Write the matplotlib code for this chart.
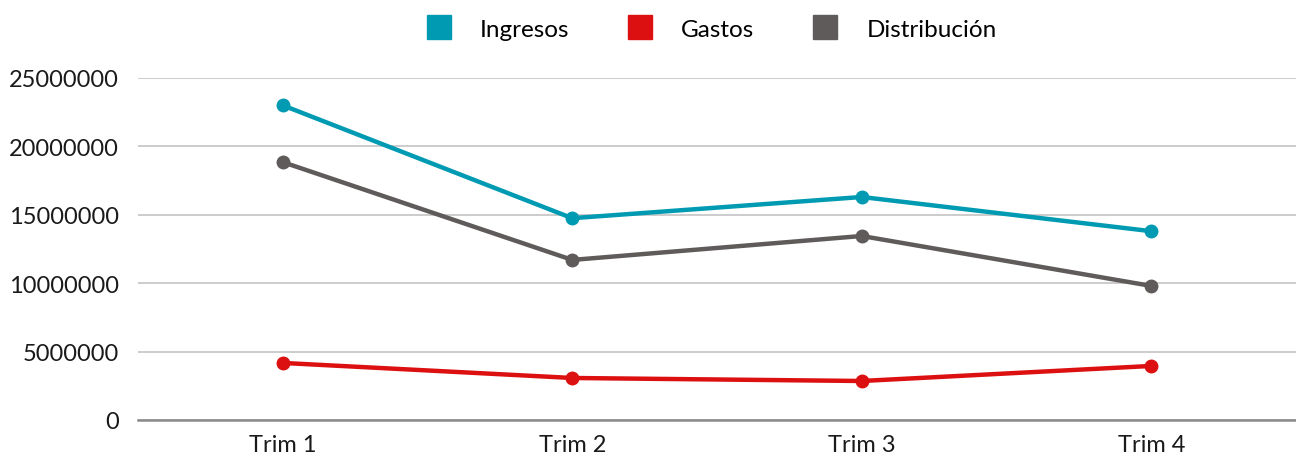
import matplotlib.pyplot as plt
from matplotlib.lines import Line2D

categories = ['Trim 1', 'Trim 2', 'Trim 3', 'Trim 4']
ingresos = [23000000, 14750000, 16300000, 13800000]
gastos = [4170000, 3070000, 2850000, 3950000]
distribucion = [18850000, 11700000, 13450000, 9800000]

series = [
    ('Ingresos', ingresos, '#009bb2'),
    ('Gastos', gastos, '#dc1010'),
    ('Distribución', distribucion, '#5f5b5a'),
]

plt.rcParams['font.family'] = ['Lato', 'DejaVu Sans']

fig = plt.figure(figsize=(12.96, 4.56), dpi=100)
ax = fig.add_axes([0.1065, 0.0768, 0.8935, 0.75])

x = list(range(len(categories)))
handles = []
for name, vals, color in series:
    ax.plot(x, vals, color=color, linewidth=3.2, marker='o', markersize=9,
            solid_capstyle='round', zorder=3)
    handles.append(Line2D([], [], linestyle='none', marker='s', markersize=17,
                          color=color, label=name))

ax.set_xlim(-0.5, 3.5)
ax.set_ylim(0, 25000000)
ax.set_yticks(range(0, 25000001, 5000000))
ax.set_yticklabels([str(v) for v in range(0, 25000001, 5000000)])
ax.set_xticks(x)
ax.set_xticklabels(categories)

ax.grid(axis='y', color='#c8c8c8', linewidth=1.3)
ax.set_axisbelow(True)
for side in ['top', 'right', 'left']:
    ax.spines[side].set_visible(False)
ax.spines['bottom'].set_color('#8a8a8a')
ax.spines['bottom'].set_linewidth(1.8)
ax.tick_params(axis='both', length=0, labelsize=17, colors='#1a1a1a')
ax.tick_params(axis='y', pad=14)
ax.tick_params(axis='x', pad=10)

fig.legend(handles=handles, loc='upper center', bbox_to_anchor=(0.549, 1.005),
           ncol=3, frameon=False, fontsize=17.5, handlelength=1.0,
           handletextpad=1.2, columnspacing=2.4)

fig.savefig('out.png', dpi=100)
